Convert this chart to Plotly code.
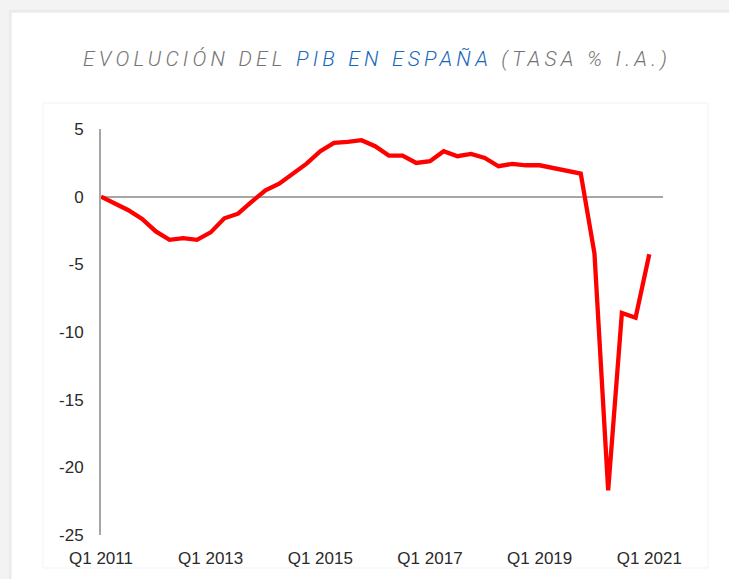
import plotly.graph_objects as go

# ---- data ----
years = list(range(2011, 2022))
quarters = [f"Q{q} {y}" for y in years for q in (1, 2, 3, 4)][:41]  # Q1 2011 .. Q1 2021
gdp_yoy = [
    0.0, -0.47, -1.0, -1.65,      # 2011
    -2.57, -3.19, -3.06, -3.19,   # 2012
    -2.64, -1.6, -1.26, -0.37,    # 2013
    0.47, 0.96, 1.7, 2.44,        # 2014
    3.36, 3.98, 4.05, 4.17,       # 2015
    3.73, 3.04, 3.04, 2.49,       # 2016
    2.62, 3.36, 2.99, 3.16,       # 2017
    2.86, 2.25, 2.42, 2.32,       # 2018
    2.32, 2.12, 1.93, 1.70,       # 2019
    -4.2, -21.7, -8.6, -8.95,     # 2020
    -4.25,                        # 2021
]
x_tick_labels = ["Q1 2011", "Q1 2013", "Q1 2015", "Q1 2017", "Q1 2019", "Q1 2021"]
y_tick_values = [5, 0, -5, -10, -15, -20, -25]
y_tick_labels = ["5", "0", "-5", "-10", "-15", "-20", "-25"]

# ---- layout geometry (pixels) ----
W, H = 729, 579
L, R, T, B = 101, 663, 129, 535


def px_x(p):
    return (p - L) / (R - L)


def px_y(p):
    return (B - p) / (B - T)


fig = go.Figure()
fig.add_trace(go.Scatter(
    x=quarters, y=gdp_yoy, mode="lines",
    line=dict(color="#ff0000", width=4.3),
    hoverinfo="x+y", showlegend=False,
))

shapes = []
# card shadow / background
shadow = [(9, 10, "#e9e9e9"), (10, 11, "#ececec"), (11, 12, "#f1f1f1")]
for sx, sy, col in shadow:
    shapes.append(dict(type="rect", xref="paper", yref="paper",
                       x0=px_x(sx), x1=px_x(W + 5), y0=px_y(sy), y1=px_y(H + 5),
                       fillcolor=col, line=dict(width=0), layer="below"))
shapes.append(dict(type="rect", xref="paper", yref="paper",
                   x0=px_x(12), x1=px_x(W + 5), y0=px_y(13), y1=px_y(H + 5),
                   fillcolor="#ffffff", line=dict(width=0), layer="below"))
# inner chart frame
shapes.append(dict(type="rect", xref="paper", yref="paper",
                   x0=px_x(43), x1=px_x(708), y0=px_y(103), y1=px_y(568),
                   fillcolor="#ffffff", line=dict(color="#f3f3f3", width=1), layer="below"))

ls = "letter-spacing:4.2px"
title_text = (
    f'<span style="{ls}">EVOLUCIÓN DEL </span>'
    f'<span style="{ls};fill:#1767ba">PIB EN ESPAÑA</span>'
    f'<span style="{ls}"> (TASA % I.A.)</span>'
)

fig.update_layout(
    width=W, height=H,
    margin=dict(l=L, r=W - R, t=T, b=H - B, pad=0),
    paper_bgcolor="#f3f3f3",
    plot_bgcolor="rgba(0,0,0,0)",
    shapes=shapes,
    annotations=[dict(
        text=title_text, xref="paper", yref="paper",
        x=px_x(377), y=px_y(59), xanchor="center", yanchor="middle",
        showarrow=False,
        font=dict(family="Roboto", size=21, color="#747474", style="italic", weight=300),
    )],
    xaxis=dict(
        type="category",
        range=[0, 41],
        tickmode="array", tickvals=x_tick_labels, ticktext=x_tick_labels,
        showgrid=False, zeroline=False, showline=False, ticks="",
        tickfont=dict(family="Liberation Sans, Arial", size=17, color="#2a2a2a"),
        ticklabelstandoff=11,
    ),
    yaxis=dict(
        range=[-25, 5],
        tickmode="array", tickvals=y_tick_values, ticktext=y_tick_labels,
        showgrid=False,
        zeroline=True, zerolinecolor="#a6a6a6", zerolinewidth=2,
        showline=True, linecolor="#a6a6a6", linewidth=2,
        ticks="",
        tickfont=dict(family="Liberation Sans, Arial", size=17, color="#2a2a2a"),
        ticklabelstandoff=12,
    ),
)

fig.write_html(
    "out.html",
    config={"displayModeBar": False},
    post_script="document.body.style.margin='0';document.body.style.overflow='hidden';",
)
